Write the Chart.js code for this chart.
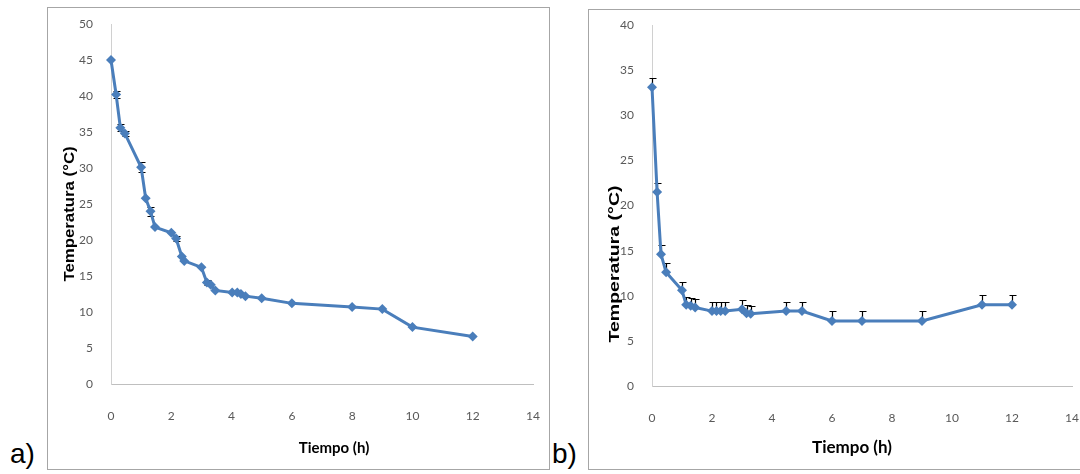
<!DOCTYPE html>
<html>
<head>
<meta charset="utf-8">
<script src="https://cdn.jsdelivr.net/npm/chart.js@4.4.1/dist/chart.umd.min.js"></script>
<style>
body { margin: 0; width: 1080px; height: 474px; overflow: hidden; background: #fff; position: relative; }
.frame { position: absolute; border: 1px solid #a6a6a6; box-sizing: border-box; }
.frame canvas { position: absolute; left: 0; top: 0; }
.tag { position: absolute; font-family: 'Liberation Sans', Arial, sans-serif; font-size: 28px; line-height: 1; color: #000; }
</style>
</head>
<body>
<div class="tag" style="left:10px; top:440px;">a)</div>
<div class="tag" style="left:552px; top:440px;">b)</div>
<div class="frame" style="left:47px; top:7px; width:503px; height:463px;">
  <canvas id="chartA" width="501" height="461"></canvas>
</div>
<div class="frame" style="left:588px; top:9px; width:500px; height:461px;">
  <canvas id="chartB" width="491" height="459"></canvas>
</div>
<script>
// a) data
var timeA = [0, 0.17, 0.31, 0.46, 1, 1.15, 1.31, 1.46, 2, 2.16, 2.35, 2.43, 3, 3.18, 3.31, 3.46, 4.02, 4.19, 4.31, 4.46, 5, 6, 8, 9, 10, 12];
var tempA = [45, 40.2, 35.6, 34.8, 30.1, 25.8, 24.0, 21.8, 21.0, 20.2, 17.7, 17.1, 16.2, 14.1, 13.8, 13.0, 12.7, 12.7, 12.5, 12.2, 11.9, 11.2, 10.7, 10.4, 7.9, 6.6];
var errA  = [0, 0.5, 0.5, 0.3, 0.7, 0, 0.6, 0, 0, 0.4, 0, 0, 0, 0.3, 0, 0, 0, 0, 0, 0, 0, 0, 0, 0, 0, 0];

// b) data
var timeB = [0, 0.17, 0.3, 0.47, 1, 1.14, 1.29, 1.44, 2, 2.15, 2.29, 2.44, 3, 3.15, 3.29, 4.47, 5, 6, 7, 9, 11, 12];
var tempB = [33.1, 21.5, 14.6, 12.6, 10.6, 9.0, 8.9, 8.7, 8.3, 8.3, 8.3, 8.3, 8.5, 8.05, 8.0, 8.3, 8.3, 7.2, 7.2, 7.2, 9.0, 9.0];
var errB  = [1.0, 1.0, 1.0, 1.0, 0.9, 0.9, 0.9, 0.95, 1.0, 1.0, 1.0, 1.0, 1.0, 0.9, 0.9, 1.05, 1.0, 1.1, 1.1, 1.1, 1.05, 1.05];

var xTitle = 'Tiempo (h)';
var yTitle = 'Temperatura (°C)';

// draws black error bars under the markers
const errorBars = {
    id: 'errorBars',
    beforeDatasetsDraw(chart) {
        const ctx = chart.ctx;
        const xs = chart.scales.x, ys = chart.scales.y;
        chart.data.datasets.forEach(ds => {
            if (!ds.errors) return;
            ctx.save();
            ctx.strokeStyle = '#000';
            ctx.lineWidth = 1.2;
            ds.data.forEach((p, i) => {
                const e = ds.errors[i];
                if (!e) return;
                const px = Math.round(xs.getPixelForValue(p.x)) + 0.5;
                const top = Math.round(ys.getPixelForValue(p.y + e)) + 0.5;
                const bot = ds.errorBoth ? Math.round(ys.getPixelForValue(p.y - e)) + 0.5 : ys.getPixelForValue(p.y);
                ctx.beginPath();
                ctx.moveTo(px, top); ctx.lineTo(px, bot);
                ctx.moveTo(px - 3, top); ctx.lineTo(px + 4, top);
                if (ds.errorBoth) { ctx.moveTo(px - 3, bot); ctx.lineTo(px + 4, bot); }
                ctx.stroke();
            });
            ctx.restore();
        });
    }
};

// axis titles placed like in the original figure (y title is stretched like the scan)
const axisTitles = {
    id: 'axisTitles',
    afterDraw(chart, args, opts) {
        const ctx = chart.ctx;
        ctx.save();
        ctx.fillStyle = '#000';
        ctx.textAlign = 'center';
        ctx.textBaseline = 'middle';
        ctx.font = 'bold ' + opts.xSize + 'px Lato, sans-serif';
        ctx.fillText(opts.xText, opts.xPos[0], opts.xPos[1]);
        ctx.font = 'bold ' + opts.ySize + 'px "Liberation Sans", Arial, sans-serif';
        ctx.translate(opts.yPos[0], opts.yPos[1]);
        ctx.rotate(-Math.PI / 2);
        ctx.scale(opts.yStretch, 1);
        ctx.fillText(opts.yText, 0, 0);
        ctx.restore();
    }
};

function toPoints(xs, ys){
    var pts = [];
    for (var i = 0; i < xs.length; i++){
        pts.push({x: xs[i], y: ys[i]});
    }
    return pts;
}

function createChart(id, xs, ys, errs, both, yMax, sizes){
    var ctx = document.getElementById(id).getContext('2d');
    return new Chart(ctx, {
        type: 'line',
        data: {
            datasets: [{
                data: toPoints(xs, ys),
                errors: errs,
                errorBoth: both,
                borderColor: '#4a7ebb',
                backgroundColor: '#4a7ebb',
                borderWidth: 3,
                pointStyle: 'rectRot',
                pointRadius: 5,
                pointBorderWidth: 0,
                tension: 0,
                clip: false
            }]
        },
        options: {
            responsive: false,
            animation: false,
            layout: { padding: { top: sizes.top, right: sizes.right, left: 0, bottom: 0 } },
            plugins: {
                legend: { display: false },
                tooltip: { enabled: false },
                axisTitles: {
                    xText: xTitle, yText: yTitle,
                    xSize: sizes.xFont, ySize: sizes.yFont, yStretch: sizes.stretch,
                    xPos: sizes.xPos, yPos: sizes.yPos
                }
            },
            scales: {
                x: {
                    type: 'linear',
                    min: 0,
                    max: 14,
                    grid: { display: false },
                    border: { display: true, color: '#bfbfbf', width: 1 },
                    ticks: { stepSize: 2, color: '#595959', padding: 17, font: { family: 'Lato', size: 12 } },
                    afterFit: function(scale){
                        scale.height = sizes.xH;
                        scale.paddingLeft = 0;
                        scale.paddingRight = 0;
                    }
                },
                y: {
                    min: 0,
                    max: yMax,
                    grid: { display: false },
                    border: { display: true, color: '#d0d0d0', width: 1 },
                    ticks: { stepSize: 5, color: '#595959', padding: 10, font: { family: 'Lato', size: 12 } },
                    afterFit: function(scale){
                        scale.width = 63;
                        scale.paddingTop = 0;
                        scale.paddingBottom = 0;
                    }
                }
            }
        },
        plugins: [errorBars, axisTitles]
    });
}

var chartA = createChart('chartA', timeA, tempA, errA, true, 50,
    { top: 16, right: 16, xH: 85, xFont: 15, yFont: 14, stretch: 1.2, xPos: [286, 440], yPos: [22, 206] });
var chartB = createChart('chartB', timeB, tempB, errB, false, 40,
    { top: 15, right: 8, xH: 83, xFont: 17, yFont: 15, stretch: 1.3, xPos: [263, 438], yPos: [26, 254] });
</script>
</body>
</html>
